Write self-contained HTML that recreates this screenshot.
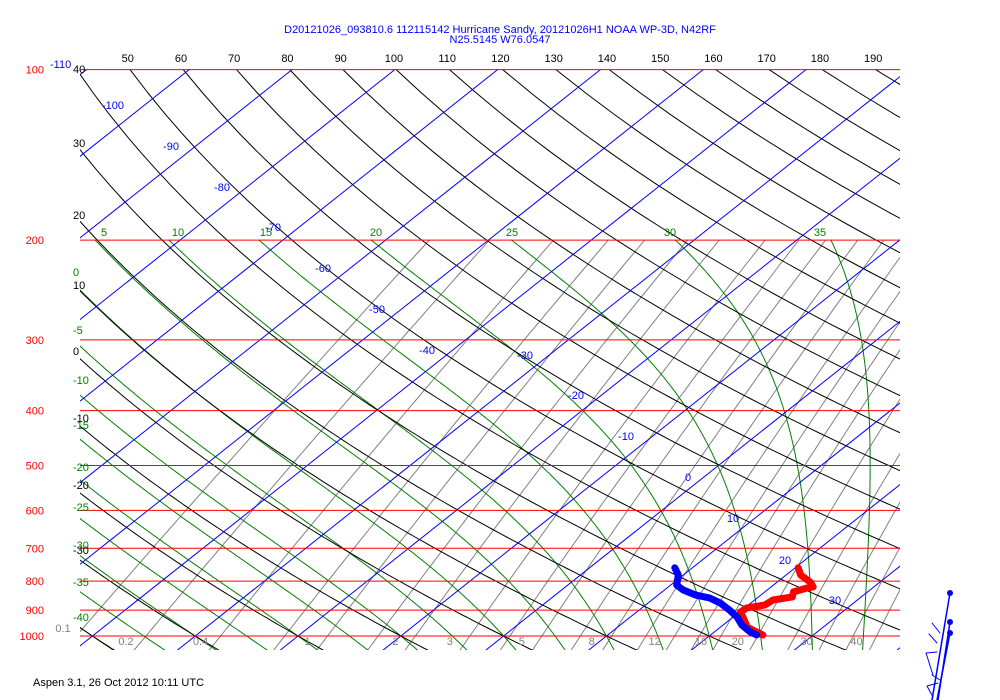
<!DOCTYPE html>
<html><head><meta charset="utf-8"><style>
html,body{margin:0;padding:0;background:#fff;width:1000px;height:700px;overflow:hidden}
svg{display:block;font-family:"Liberation Sans",sans-serif}
</style></head><body>
<svg id="chart" width="1000" height="700" viewBox="0 0 1000 700">
<g id="grid" clip-path="url(#clip)"></g>
<g id="labels"></g>
<g id="sound" clip-path="url(#clip)"></g>
<g id="wind"></g>
<defs><clipPath id="clip"><rect x="80" y="69" width="820" height="581"/></clipPath></defs>
</svg>
<script>
// ---- data ----
const pressureLevels=[100,200,300,400,500,600,700,800,900,1000];
const isotherms=[-130,-120,-110,-100,-90,-80,-70,-60,-50,-40,-30,-20,-10,0,10,20,30,40,50];
const isothermLabels=[[-100,113,105],[-90,171,146],[-80,222,187],[-70,273,227],[-60,323,268],[-50,377,309],[-40,427,350],[-30,525,355],[-20,576,395],[-10,626,436],[0,688,477],[10,733,518],[20,785,560],[30,835,600]];
const dryAdiabats=[-40,-30,-20,-10,0,10,20,30,40,50,60,70,80,90,100,110,120,130,140,150,160,170,180,190,200,210];
const thetaTopLabels=[50,60,70,80,90,100,110,120,130,140,150,160,170,180,190];
const thetaLeftLabels=[[40,69],[30,143],[20,215],[10,285],[0,351],[-10,418],[-20,485],[-30,550]];
const moistAdiabats=[-40,-35,-30,-25,-20,-15,-10,-5,0,5,10,15,20,25,30,35,40];
const moistTopLabels=[5,10,15,20,25,30,35];
const moistLeftLabels=[[0,272],[-5,330],[-10,380],[-15,425],[-20,467],[-25,507],[-30,545],[-35,582],[-40,617]];
const mixRatios=[0.1,0.2,0.4,0.7,1,1.5,2,3,4,5,6.5,8,10,12,14,16,20,25,30,35,40];
const mixLabels=[0.2,0.4,1,2,3,5,8,12,16,20,30,40];
const tempP=[758,780,803,819,823,836,853,864,882,892,907,929,964,976,996];
const tempT=[20.3,21.4,23.2,24.1,23.6,22.8,23.3,21.8,21.6,20.2,20.1,21.1,22.6,23.5,25.1];
const dewP=[758,780,813,829,846,857,874,900,926,956,984,996];
const dewT=[8.3,9.5,10.6,11.8,13.6,15.4,17.0,18.8,20.4,21.8,23.5,24.5];

// ---- axes ----
function yP(p){return 636-246*Math.log(1000/p);}
function xT(T,y){return 812+10.28*(T-30)+1.26*(636-y);}
const NS='http://www.w3.org/2000/svg';
function mk(tag,attrs,parent){const e=document.createElementNS(NS,tag);for(const k in attrs)e.setAttribute(k,attrs[k]);parent.appendChild(e);return e;}
const grid=document.getElementById('grid'),lab=document.getElementById('labels'),snd=document.getElementById('sound');
function poly(pts,color,w,parent,name){const el=mk('polyline',{points:pts.map(p=>p[0].toFixed(1)+','+p[1].toFixed(1)).join(' '),fill:'none',stroke:color,'stroke-width':w,'stroke-linejoin':'round','stroke-linecap':'round'},parent);


return el;}
function txt(s,x,y,color,anchor,parent,name,size){const t=mk('text',{x:x,y:y,fill:color,'font-size':size||11,'text-anchor':anchor||'start'},parent);t.textContent=s;


return t;}
function es(T){return 6.112*Math.exp(17.67*T/(T+243.5));}

// mixing ratio lines (gray)
mixRatios.forEach(w=>{const pts=[];for(let p=1060;p>=200;p-=10){const e=w*p/(622+w);const l=Math.log(e/6.112);const T=243.5*l/(17.67-l);const y=yP(p);pts.push([xT(T,y),y]);}poly(pts,'#808080',1,grid,'mixing-ratio-line');});
// moist adiabats (green)
function moistDT(T,p){const Tk=T+273.15;const rs=0.622*es(T)/(p-es(T));const Lv=2.5e6,Rd=287,cp=1005;return (Rd*Tk+Lv*rs)/(cp+Lv*Lv*rs*0.622/(Rd*Tk*Tk))/p;}
moistAdiabats.forEach(tw=>{let T=tw,p=1000;const up=[];let pp=1000,TT=tw;const down=[];
while(pp<1060){const dp=5;TT+=moistDT(TT,pp)*dp;pp+=dp;down.push([pp,TT]);}
up.push([1000,tw]);while(p>200){const dp=-2;const k1=moistDT(T,p);const k2=moistDT(T+k1*dp/2,p+dp/2);T+=k2*dp;p+=dp;up.push([p,T]);}
const all=down.reverse().concat(up);poly(all.map(a=>{const y=yP(a[0]);return [xT(a[1],y),y];}),'#008000',1,grid,'moist-adiabat');});
// dry adiabats (black)
dryAdiabats.forEach(th=>{const pts=[];for(let p=1060;p>=95;p-=10){const T=(th+273.15)*Math.pow(p/1000,0.2857)-273.15;const y=yP(p);pts.push([xT(T,y),y]);}poly(pts,'#000000',1,grid,'dry-adiabat');});
// isotherms (blue)
isotherms.forEach(T=>{poly([[xT(T,650),650],[xT(T,69),69]],'#0000ff',1,grid,'isotherm');});
// pressure lines (red)
pressureLevels.forEach(p=>{const y=yP(p);const l=mk('line',{x1:80,x2:900,y1:y,y2:y,stroke:'#ff0000','stroke-width':1},lab);


txt(String(p),44,y+4,'#ff0000','end',lab,'pressure-label');});
txt('-110',50,68,'#0000ff','start',lab,'isotherm-label');
isothermLabels.forEach(a=>txt(String(a[0]),a[1],a[2]+4,'#0000ff','middle',lab,'isotherm-label'));
thetaTopLabels.forEach(th=>{const T=(th+273.15)*Math.pow(0.1,0.2857)-273.15;txt(String(th),xT(T,69)-3,62,'#000000','middle',lab,'theta-label');});
thetaLeftLabels.forEach(a=>txt(String(a[0]),73,a[1]+4,'#000000','start',lab,'theta-label'));
moistTopLabels.forEach((tw,i)=>{const xs=[104,178,266,376,512,670,820];txt(String(tw),xs[i],236,'#008000','middle',lab,'moist-adiabat-label');});
moistLeftLabels.forEach(a=>txt(String(a[0]),73,a[1]+4,'#008000','start',lab,'moist-adiabat-label'));
mixLabels.forEach(w=>{const e=w*1000/(622+w);const l=Math.log(e/6.112);const T=243.5*l/(17.67-l);const x=xT(T,636);txt(String(w),x-20,645,'#808080','middle',lab,'mixing-ratio-label');});
txt('0.1',63,632,'#808080','middle',lab,'mixing-ratio-label');
// sounding
poly(tempP.map((p,i)=>{const y=yP(p);return [xT(tempT[i],y),y];}),'#ff0000',7,snd,'temperature-trace');
poly(dewP.map((p,i)=>{const y=yP(p);return [xT(dewT[i],y),y];}),'#0000ff',7,snd,'dewpoint-trace');
// titles
txt('D20121026_093810.6 112115142 Hurricane Sandy, 20121026H1 NOAA WP-3D, N42RF',500,33,'#0000ff','middle',lab,'chart-title');
txt('N25.5145 W76.0547',500,43,'#0000ff','middle',lab,'chart-subtitle');
txt('Aspen 3.1, 26 Oct 2012  10:11 UTC',33,686,'#000000','start',lab,'footer-text');
// wind barbs
const wind=document.getElementById('wind');
[[950,593,932,700],[950,622,938,700],[950,633,937,700]].forEach(a=>{poly([[a[0],a[1]],[a[2],a[3]]],'#0000ff',1.5,wind,'wind-staff');const c=mk('circle',{cx:a[0],cy:a[1],r:3,fill:'#0000ff'},wind);

});
poly([[940,633],[932,623]],'#0000ff',1,wind,'wind-barb');
poly([[937,643],[929,634]],'#0000ff',1,wind,'wind-barb');
poly([[940,680],[932,675]],'#0000ff',1,wind,'wind-barb');
poly([[937,652],[926,653],[933,675]],'#0000ff',1,wind,'wind-pennant');
poly([[938,683],[927,686],[933,697]],'#0000ff',1,wind,'wind-pennant');
</script>
</body></html>
